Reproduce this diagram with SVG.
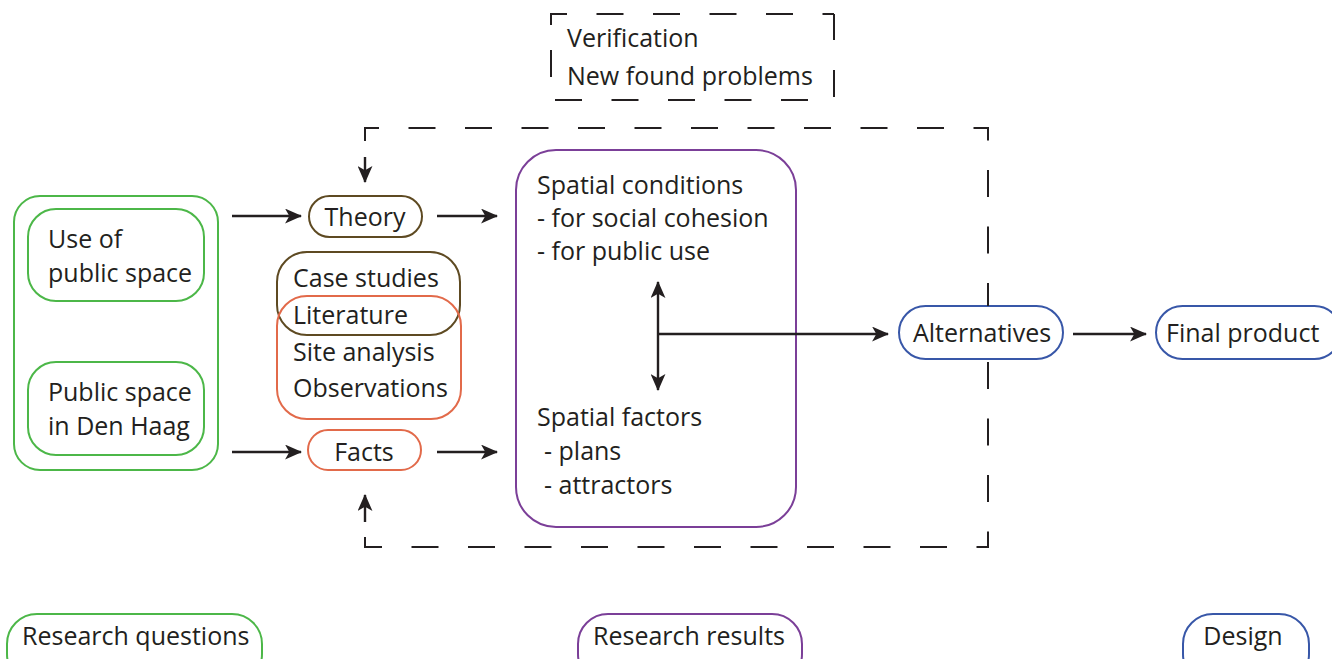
<svg xmlns="http://www.w3.org/2000/svg" width="1332" height="659" viewBox="0 0 1332 659">
<style>
text{font-family:"Open Sans","Liberation Sans",sans-serif;font-size:25px;fill:#231f20}
.box{fill:none;stroke-width:2}
.g{stroke:#4cb748}.br{stroke:#5e4a22}.o{stroke:#e26a4a}.p{stroke:#7b3f98}.b{stroke:#3857a8}
.ln{fill:none;stroke:#231f20;stroke-width:2.4}
.dash{fill:none;stroke:#231f20;stroke-width:2;stroke-dasharray:27 29.5}
.mid{text-anchor:middle}
</style>
<defs>
<marker id="ah" viewBox="0 0 16 14" refX="15" refY="7" markerWidth="17" markerHeight="15" markerUnits="userSpaceOnUse" orient="auto-start-reverse">
<path d="M0,0 L16,7 L0,14 L4,7 Z" fill="#231f20"/>
</marker>
</defs>
<g id="verification">
<path class="dash" d="M551,25 V14 H834 M834,40 V14 M551,50 V77 M834,70 V97 M555,100 H830"/>
<text x="567" y="47">Verification</text>
<text x="567" y="85">New found problems</text>
</g>
<g id="research-questions-group">
<rect class="box g" x="14" y="196" width="204" height="274" rx="26"/>
</g>
<g id="use-of-public-space">
<rect class="box g" x="28" y="209" width="176" height="92" rx="28"/>
<text x="48" y="248">Use of</text>
<text x="48" y="282">public space</text>
</g>
<g id="public-space-den-haag">
<rect class="box g" x="28" y="362" width="176" height="93" rx="28"/>
<text x="48" y="401">Public space</text>
<text x="48" y="435">in Den Haag</text>
</g>
<g id="theory">
<rect class="box br" x="309" y="196" width="113" height="41" rx="20.5"/>
<text class="mid" x="365" y="226">Theory</text>
</g>
<g id="case-studies">
<rect class="box br" x="277" y="252" width="183" height="83" rx="30"/>
</g>
<g id="methods">
<rect class="box o" x="277" y="296" width="184" height="123" rx="30"/>
<text x="293" y="287">Case studies</text>
<text x="293" y="324">Literature</text>
<text x="293" y="361">Site analysis</text>
<text x="293" y="397">Observations</text>
</g>
<g id="facts">
<rect class="box o" x="308" y="430" width="113" height="40" rx="20"/>
<text class="mid" x="364" y="461">Facts</text>
</g>
<g id="spatial">
<rect class="box p" x="516" y="150" width="280" height="377" rx="40"/>
<text x="537" y="194">Spatial conditions</text>
<text x="537" y="227">- for social cohesion</text>
<text x="537" y="260">- for public use</text>
<text x="537" y="426">Spatial factors</text>
<text x="544" y="460">- plans</text>
<text x="544" y="494">- attractors</text>
</g>
<g id="alternatives">
<rect class="box b" x="899" y="306" width="164" height="53" rx="26.5"/>
<text class="mid" x="982" y="342">Alternatives</text>
</g>
<g id="final-product">
<rect class="box b" x="1156" y="306" width="185" height="53" rx="26.5"/>
<text x="1166" y="342">Final product</text>
</g>
<g id="legend-research-questions">
<rect class="box g" x="7" y="614" width="255" height="70" rx="30"/>
<text x="22" y="645">Research questions</text>
</g>
<g id="legend-research-results">
<rect class="box p" x="578" y="614" width="224" height="70" rx="30"/>
<text x="593" y="645">Research results</text>
</g>
<g id="legend-design">
<rect class="box b" x="1183" y="614" width="126" height="70" rx="30"/>
<text class="mid" x="1243" y="645">Design</text>
</g>
<g id="connectors">
<path class="ln" d="M232,216 H301" marker-end="url(#ah)"/>
<path class="ln" d="M232,452 H301" marker-end="url(#ah)"/>
<path class="ln" d="M437,216 H497" marker-end="url(#ah)"/>
<path class="ln" d="M437,452 H497" marker-end="url(#ah)"/>
<path class="ln" d="M658,282 V390" marker-start="url(#ah)" marker-end="url(#ah)"/>
<path class="ln" d="M658,334 H888" marker-end="url(#ah)"/>
<path class="ln" d="M1073,334 H1146" marker-end="url(#ah)"/>
<path class="ln" d="M365,157 V182" marker-end="url(#ah)"/>
<path class="ln" d="M365,522 V495" marker-end="url(#ah)"/>
<path class="dash" d="M365,141 V128 H988 V306"/>
<path class="dash" d="M365,537 V547 H988 V360"/>
</g>
</svg>
